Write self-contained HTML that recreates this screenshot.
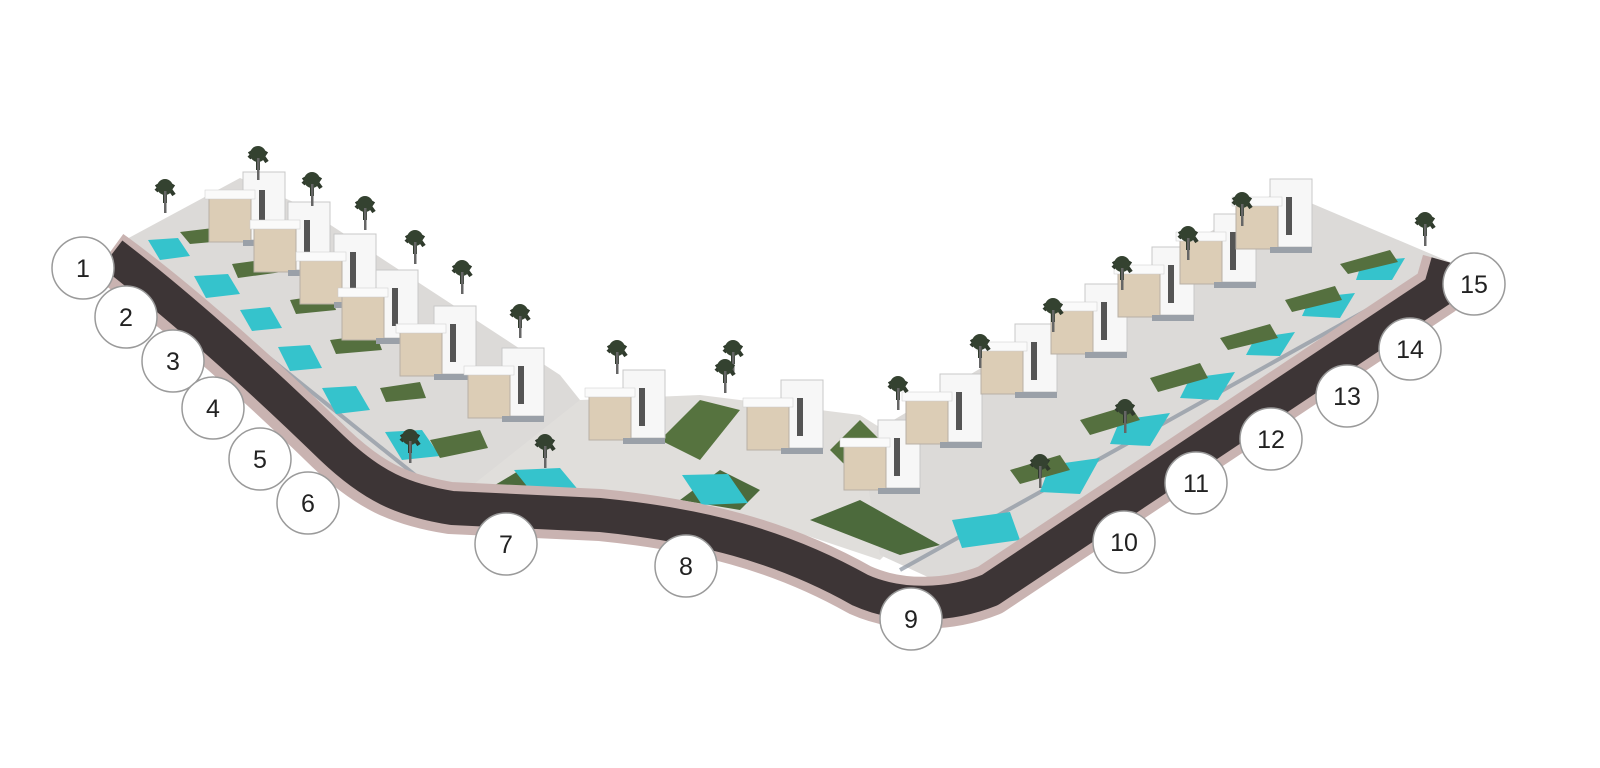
<!DOCTYPE html>
<html><head><meta charset="utf-8"><style>
html,body{margin:0;padding:0;background:#fff;width:1600px;height:768px;overflow:hidden}
svg text{font-family:"Liberation Sans",sans-serif;font-size:25px;fill:#222}
</style></head><body>
<svg width="1600" height="768" viewBox="0 0 1600 768" xmlns="http://www.w3.org/2000/svg">
<defs>
<g id="h">
  <rect x="-2" y="-38" width="42" height="68" fill="#f7f7f7" stroke="#c8c8c8" stroke-width="1"/>
  <rect x="14" y="-20" width="6" height="38" fill="#555"/>
  <rect x="-36" y="-12" width="42" height="44" fill="#dccdb6" stroke="#b8b0a6" stroke-width="1"/>
  <rect x="-40" y="-20" width="50" height="9" fill="#fafafa" stroke="#ccc" stroke-width="0.5"/>
  <rect x="-2" y="30" width="42" height="6" fill="#9aa0a8"/>
</g>
<g id="p">
  <path d="M-9,-8 q9,-6 18,0 M-9,-4 q9,-10 18,4 M0,-8 v16" stroke="#2f3a2c" stroke-width="4" fill="none"/>
  <circle cx="0" cy="-8" r="8" fill="#344230"/>
  <rect x="-1" y="-4" width="2.5" height="22" fill="#666"/>
</g>
</defs>
<!-- plot areas -->
<polygon points="125,240 240,178 300,205 560,375 580,400 560,440 470,500 420,495 370,470 300,400 200,310" fill="#dcdad8"/>
<polygon points="460,495 580,400 700,395 860,415 900,440 900,540 880,560 760,520 600,505" fill="#e0dedb"/>
<polygon points="860,440 1230,220 1280,190 1450,262 1440,290 1000,580 930,578 880,555" fill="#dcdad8"/>
<!-- shadow strips -->
<g stroke="#8a93a0" stroke-width="4" opacity="0.7">
<line x1="135" y1="250" x2="440" y2="495"/>
<line x1="900" y1="570" x2="1430" y2="275"/>
</g>
<!-- grass -->
<polygon points="470,500 520,470 560,480 520,500" fill="#4c6a3c"/>
<polygon points="680,500 720,470 760,490 740,510" fill="#4c6a3c"/>
<polygon points="810,520 860,500 940,545 900,555" fill="#4c6a3c"/>
<polygon points="660,440 700,400 740,410 700,460" fill="#56733f"/>
<polygon points="830,450 860,420 880,440 850,470" fill="#56733f"/>
<!-- pools -->
<g fill="#35c3cc">
<polygon points="148,240 178,238 190,256 160,260"/>
<polygon points="194,276 228,274 240,294 206,298"/>
<polygon points="240,310 270,307 282,328 252,331"/>
<polygon points="278,347 310,345 322,368 290,371"/>
<polygon points="322,388 356,386 370,410 336,414"/>
<polygon points="385,432 422,430 440,456 402,460"/>
<polygon points="514,470 560,468 580,492 534,495"/>
<polygon points="682,475 728,474 748,503 702,505"/>
<polygon points="952,520 1010,512 1020,540 962,548"/>
<polygon points="1050,465 1100,458 1080,494 1040,492"/>
<polygon points="1120,420 1170,413 1150,446 1110,444"/>
<polygon points="1190,378 1235,372 1218,400 1180,398"/>
<polygon points="1255,338 1295,332 1280,356 1246,355"/>
<polygon points="1310,298 1355,293 1340,318 1302,316"/>
<polygon points="1362,262 1405,258 1392,280 1356,280"/>
</g>
<g fill="#55703f">
<polygon points="180,232 230,226 235,240 190,244"/>
<polygon points="232,264 276,258 282,272 238,278"/>
<polygon points="290,300 330,294 336,310 296,314"/>
<polygon points="330,340 376,334 382,350 336,354"/>
<polygon points="380,388 420,382 426,398 386,402"/>
<polygon points="430,440 480,430 488,448 440,458"/>
<polygon points="1010,470 1060,455 1070,470 1020,484"/>
<polygon points="1080,420 1130,405 1140,420 1090,435"/>
<polygon points="1150,378 1200,363 1208,378 1158,392"/>
<polygon points="1220,338 1270,324 1278,338 1228,350"/>
<polygon points="1285,300 1335,286 1342,300 1292,312"/>
<polygon points="1340,264 1390,250 1398,262 1348,274"/>
</g>
<!-- houses -->
<use href="#h" x="245" y="210"/>
<use href="#h" x="290" y="240"/>
<use href="#h" x="336" y="272"/>
<use href="#h" x="378" y="308"/>
<use href="#h" x="436" y="344"/>
<use href="#h" x="504" y="386"/>
<use href="#h" x="625" y="408"/>
<use href="#h" x="783" y="418"/>
<use href="#h" x="880" y="458"/>
<use href="#h" x="942" y="412"/>
<use href="#h" x="1017" y="362"/>
<use href="#h" x="1087" y="322"/>
<use href="#h" x="1154" y="285"/>
<use href="#h" x="1216" y="252"/>
<use href="#h" x="1272" y="217"/>
<!-- palms -->
<use href="#p" x="165" y="195"/><use href="#p" x="258" y="162"/><use href="#p" x="312" y="188"/>
<use href="#p" x="365" y="212"/><use href="#p" x="415" y="246"/><use href="#p" x="462" y="276"/>
<use href="#p" x="520" y="320"/><use href="#p" x="617" y="356"/><use href="#p" x="733" y="356"/>
<use href="#p" x="725" y="375"/><use href="#p" x="898" y="392"/><use href="#p" x="980" y="350"/>
<use href="#p" x="1053" y="314"/><use href="#p" x="1122" y="272"/><use href="#p" x="1188" y="242"/>
<use href="#p" x="1242" y="208"/><use href="#p" x="1425" y="228"/><use href="#p" x="1040" y="470"/>
<use href="#p" x="1125" y="415"/><use href="#p" x="410" y="445"/><use href="#p" x="545" y="450"/>
<!-- road -->
<path d="M108,255 C170,300 250,370 330,448 C370,486 400,500 450,508 L600,515 C700,525 780,545 860,590 C900,608 950,606 990,590 L1440,290 L1448,262" fill="none" stroke="#c9b3b1" stroke-width="52" stroke-linejoin="round"/>
<path d="M112,254 C172,300 252,370 332,448 C372,486 402,500 452,508 L600,515 C700,525 780,545 860,590 C900,608 950,606 990,590 L1440,290 L1448,262" fill="none" stroke="#3d3536" stroke-width="34" stroke-linejoin="round"/>
<!-- circles -->
<g fill="#fff" stroke="#9a9a9a" stroke-width="1.5">
<circle cx="83" cy="268" r="31"/><circle cx="126" cy="317" r="31"/><circle cx="173" cy="361" r="31"/>
<circle cx="213" cy="408" r="31"/><circle cx="260" cy="459" r="31"/><circle cx="308" cy="503" r="31"/>
<circle cx="506" cy="544" r="31"/><circle cx="686" cy="566" r="31"/><circle cx="911" cy="619" r="31"/>
<circle cx="1124" cy="542" r="31"/><circle cx="1196" cy="483" r="31"/><circle cx="1271" cy="439" r="31"/>
<circle cx="1347" cy="396" r="31"/><circle cx="1410" cy="349" r="31"/><circle cx="1474" cy="284" r="31"/>
</g>
<g text-anchor="middle">
<text x="83" y="277">1</text><text x="126" y="326">2</text><text x="173" y="370">3</text>
<text x="213" y="417">4</text><text x="260" y="468">5</text><text x="308" y="512">6</text>
<text x="506" y="553">7</text><text x="686" y="575">8</text><text x="911" y="628">9</text>
<text x="1124" y="551">10</text><text x="1196" y="492">11</text><text x="1271" y="448">12</text>
<text x="1347" y="405">13</text><text x="1410" y="358">14</text><text x="1474" y="293">15</text>
</g>
</svg>
</body></html>
